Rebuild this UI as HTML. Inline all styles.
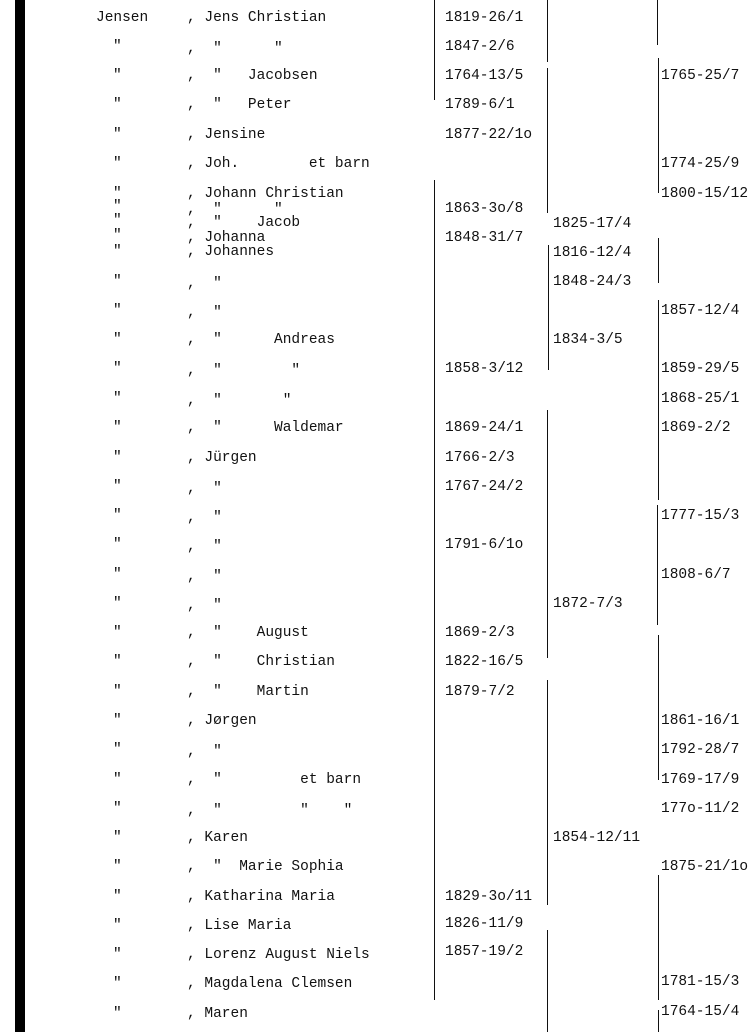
<!DOCTYPE html>
<html><head><meta charset="utf-8"><style>
body{margin:0;width:750px;height:1032px;background:#fff;position:relative;overflow:hidden;font-family:"Liberation Mono",monospace;font-size:14.5px;color:#111}
div{position:absolute;white-space:pre;line-height:16px}
.l{background:#111;width:1px}
</style></head><body>
<div style="left:15px;top:0;width:10px;height:1032px;background:#000"></div>
<div class="l" style="left:434px;top:0;height:100px"></div>
<div class="l" style="left:434px;top:180px;height:820px"></div>
<div class="l" style="left:547px;top:0;height:62px"></div>
<div class="l" style="left:547px;top:68px;height:145px"></div>
<div class="l" style="left:548px;top:245px;height:125px"></div>
<div class="l" style="left:547px;top:410px;height:248px"></div>
<div class="l" style="left:547px;top:680px;height:225px"></div>
<div class="l" style="left:547px;top:930px;height:102px"></div>
<div class="l" style="left:657px;top:0;height:45px"></div>
<div class="l" style="left:658px;top:58px;height:135px"></div>
<div class="l" style="left:658px;top:238px;height:45px"></div>
<div class="l" style="left:658px;top:300px;height:200px"></div>
<div class="l" style="left:657px;top:505px;height:120px"></div>
<div class="l" style="left:658px;top:635px;height:145px"></div>
<div class="l" style="left:658px;top:875px;height:125px"></div>
<div class="l" style="left:658px;top:1010px;height:22px"></div>

<div style="left:96px;top:10px">Jensen</div>
<div style="left:187px;top:10px">, Jens Christian</div>
<div style="left:445px;top:10px">1819-26/1</div>

<div style="left:113px;top:39px">"</div><div style="left:187px;top:41px">,  "      "</div><div style="left:445px;top:39px">1847-2/6</div>
<div style="left:113px;top:68px">"</div><div style="left:187px;top:68px">,  "   Jacobsen</div><div style="left:445px;top:68px">1764-13/5</div><div style="left:661px;top:68px">1765-25/7</div>
<div style="left:113px;top:97px">"</div><div style="left:187px;top:97px">,  "   Peter</div><div style="left:445px;top:97px">1789-6/1</div>
<div style="left:113px;top:127px">"</div><div style="left:187px;top:127px">, Jensine</div><div style="left:445px;top:127px">1877-22/1o</div>
<div style="left:113px;top:156px">"</div><div style="left:187px;top:156px">, Joh.        et barn</div><div style="left:661px;top:156px">1774-25/9</div>
<div style="left:113px;top:186px">"</div><div style="left:187px;top:186px">, Johann Christian</div><div style="left:661px;top:186px">1800-15/12</div>
<div style="left:113px;top:199px">"</div><div style="left:187px;top:202px">,  "      "</div><div style="left:445px;top:201px">1863-3o/8</div>
<div style="left:113px;top:213px">"</div><div style="left:187px;top:215px">,  "    Jacob</div><div style="left:553px;top:216px">1825-17/4</div>
<div style="left:113px;top:228px">"</div><div style="left:187px;top:230px">, Johanna</div><div style="left:445px;top:230px">1848-31/7</div>
<div style="left:113px;top:244px">"</div><div style="left:187px;top:244px">, Johannes</div><div style="left:553px;top:245px">1816-12/4</div>
<div style="left:113px;top:274px">"</div><div style="left:187px;top:276px">,  "</div><div style="left:553px;top:274px">1848-24/3</div>
<div style="left:113px;top:303px">"</div><div style="left:187px;top:305px">,  "</div><div style="left:661px;top:303px">1857-12/4</div>
<div style="left:113px;top:332px">"</div><div style="left:187px;top:332px">,  "      Andreas</div><div style="left:553px;top:332px">1834-3/5</div>
<div style="left:113px;top:361px">"</div><div style="left:187px;top:363px">,  "        "</div><div style="left:445px;top:361px">1858-3/12</div><div style="left:661px;top:361px">1859-29/5</div>
<div style="left:113px;top:391px">"</div><div style="left:187px;top:393px">,  "       "</div><div style="left:661px;top:391px">1868-25/1</div>
<div style="left:113px;top:420px">"</div><div style="left:187px;top:420px">,  "      Waldemar</div><div style="left:445px;top:420px">1869-24/1</div><div style="left:661px;top:420px">1869-2/2</div>
<div style="left:113px;top:450px">"</div><div style="left:187px;top:450px">, Jürgen</div><div style="left:445px;top:450px">1766-2/3</div>
<div style="left:113px;top:479px">"</div><div style="left:187px;top:481px">,  "</div><div style="left:445px;top:479px">1767-24/2</div>
<div style="left:113px;top:508px">"</div><div style="left:187px;top:510px">,  "</div><div style="left:661px;top:508px">1777-15/3</div>
<div style="left:113px;top:537px">"</div><div style="left:187px;top:539px">,  "</div><div style="left:445px;top:537px">1791-6/1o</div>
<div style="left:113px;top:567px">"</div><div style="left:187px;top:569px">,  "</div><div style="left:661px;top:567px">1808-6/7</div>
<div style="left:113px;top:596px">"</div><div style="left:187px;top:598px">,  "</div><div style="left:553px;top:596px">1872-7/3</div>
<div style="left:113px;top:625px">"</div><div style="left:187px;top:625px">,  "    August</div><div style="left:445px;top:625px">1869-2/3</div>
<div style="left:113px;top:654px">"</div><div style="left:187px;top:654px">,  "    Christian</div><div style="left:445px;top:654px">1822-16/5</div>
<div style="left:113px;top:684px">"</div><div style="left:187px;top:684px">,  "    Martin</div><div style="left:445px;top:684px">1879-7/2</div>
<div style="left:113px;top:713px">"</div><div style="left:187px;top:713px">, Jørgen</div><div style="left:661px;top:713px">1861-16/1</div>
<div style="left:113px;top:742px">"</div><div style="left:187px;top:744px">,  "</div><div style="left:661px;top:742px">1792-28/7</div>
<div style="left:113px;top:772px">"</div><div style="left:187px;top:772px">,  "         et barn</div><div style="left:661px;top:772px">1769-17/9</div>
<div style="left:113px;top:801px">"</div><div style="left:187px;top:803px">,  "         "    "</div><div style="left:661px;top:801px">177o-11/2</div>
<div style="left:113px;top:830px">"</div><div style="left:187px;top:830px">, Karen</div><div style="left:553px;top:830px">1854-12/11</div>
<div style="left:113px;top:859px">"</div><div style="left:187px;top:859px">,  "  Marie Sophia</div><div style="left:661px;top:859px">1875-21/1o</div>
<div style="left:113px;top:889px">"</div><div style="left:187px;top:889px">, Katharina Maria</div><div style="left:445px;top:889px">1829-3o/11</div>
<div style="left:113px;top:918px">"</div><div style="left:187px;top:918px">, Lise Maria</div><div style="left:445px;top:916px">1826-11/9</div>
<div style="left:113px;top:947px">"</div><div style="left:187px;top:947px">, Lorenz August Niels</div><div style="left:445px;top:944px">1857-19/2</div>
<div style="left:113px;top:976px">"</div><div style="left:187px;top:976px">, Magdalena Clemsen</div><div style="left:661px;top:974px">1781-15/3</div>
<div style="left:113px;top:1006px">"</div><div style="left:187px;top:1006px">, Maren</div><div style="left:661px;top:1004px">1764-15/4</div>
</body></html>
